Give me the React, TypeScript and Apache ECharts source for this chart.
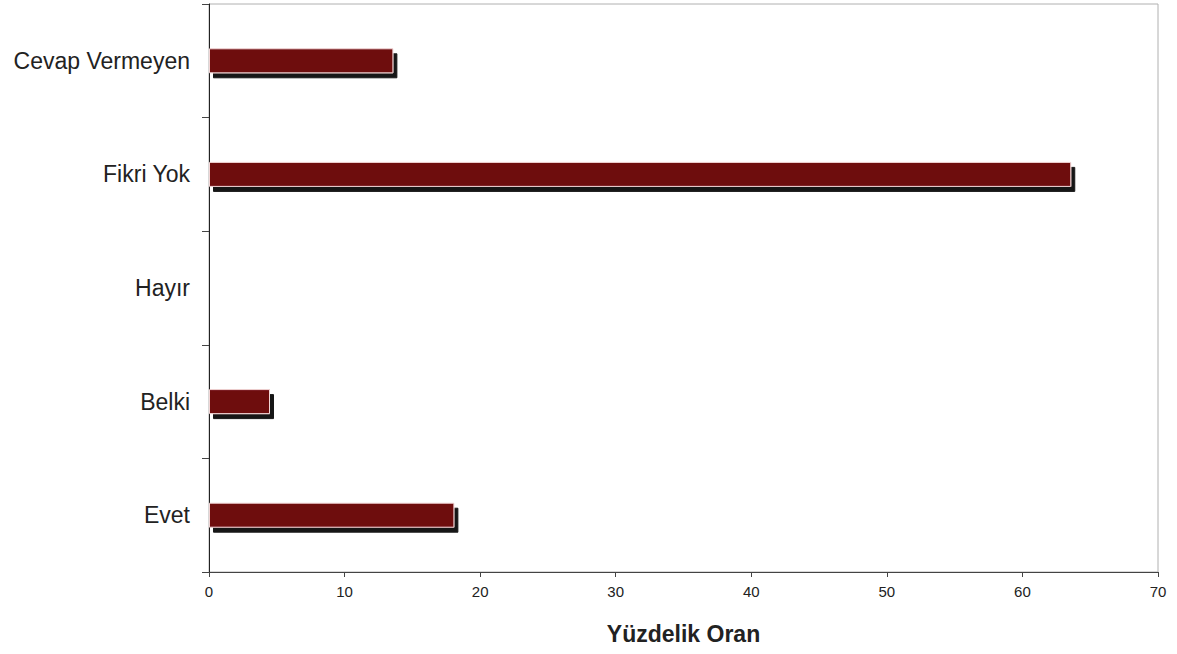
import React, { useEffect, useRef } from "react";
import * as echarts from "echarts";

const categories = ["Evet", "Belki", "Hayır", "Fikri Yok", "Cevap Vermeyen"];
const values = [18.1, 4.5, 0, 63.6, 13.6];
const xTicks = [0, 10, 20, 30, 40, 50, 60, 70];

export default function App() {
  const ref = useRef<HTMLDivElement>(null);
  useEffect(() => {
    const chart = echarts.init(ref.current!, null, { renderer: "svg" });
    chart.setOption({
      animation: false,
      backgroundColor: "#ffffff",
      grid: {
        left: 209,
        right: 19,
        top: 4,
        bottom: 82,
        show: true,
        borderColor: "#b0b0b0",
        borderWidth: 1,
      },
      xAxis: {
        type: "value",
        min: xTicks[0],
        max: xTicks[xTicks.length - 1],
        interval: 10,
        name: "Yüzdelik Oran",
        nameLocation: "middle",
        nameGap: 50,
        nameTextStyle: {
          fontFamily: "Liberation Sans, Arial, sans-serif",
          fontWeight: "bold",
          fontSize: 23,
          color: "#222",
        },
        axisLine: { show: true, lineStyle: { color: "#444", width: 1 } },
        axisTick: { show: true, length: 5, lineStyle: { color: "#444" } },
        splitLine: { show: false },
        axisLabel: {
          margin: 12,
          fontSize: 15,
          color: "#222",
          fontFamily: "Liberation Sans, Arial, sans-serif",
        },
      },
      yAxis: {
        type: "category",
        data: categories,
        axisLine: { show: true, lineStyle: { color: "#222", width: 1 } },
        axisTick: { show: true, length: 7, lineStyle: { color: "#444" } },
        axisLabel: {
          margin: 19,
          fontSize: 23,
          color: "#222",
          fontFamily: "Liberation Sans, Arial, sans-serif",
        },
      },
      series: [
        {
          type: "bar",
          data: values,
          barWidth: 25,
          itemStyle: {
            color: "#6e0d10",
            borderColor: "#f2d6d6",
            borderWidth: 1,
            shadowColor: "#151515",
            shadowBlur: 0,
            shadowOffsetX: 4,
            shadowOffsetY: 5,
          },
        },
      ],
    });
    return () => chart.dispose();
  }, []);
  return (
    <div
      ref={ref}
      style={{ position: "fixed", left: 0, top: 0, width: 1177, height: 654 }}
    />
  );
}
